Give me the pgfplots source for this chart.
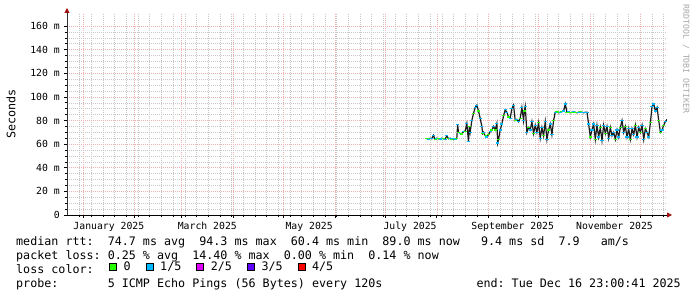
\documentclass[border=0pt]{standalone}
\usepackage{fontspec}
\setmainfont{DejaVu Sans Mono}
\usepackage{pgfplots}
\usepackage{pgfplotstable}
\pgfplotsset{compat=1.18}
\usetikzlibrary{arrows.meta}
\definecolor{lc0}{HTML}{26FF00}
\definecolor{lc1}{HTML}{00B8FF}
\definecolor{lc2}{HTML}{DD00FF}
\definecolor{lc3}{HTML}{5E00FF}
\definecolor{lc4}{HTML}{FF0000}
\definecolor{mgridc}{HTML}{F2B0B0}
\definecolor{gridc}{HTML}{C8C8C8}
\definecolor{arrowred}{HTML}{A01010}
\definecolor{smoke}{HTML}{1C1C1C}
\newcommand\tickfont{\fontsize{9.8bp}{11bp}\selectfont}
\newcommand\legfont{\fontsize{11.7bp}{14bp}\selectfont}
\frenchspacing
\pgfplotstableread{
day rtt cls
206 64.5 g
207 64 b
208 65 g
209 64.5 b
210 67.5 b
211 64 g
212 65 b
213 64.5 g
214 64 b
215 65 b
216 64.5 g
217 64 b
218 67 b
219 64.5 g
220 65 b
221 64 g
222 64.5 b
223 64 b
224 65 g
224.5 76.5 b
225 70 g
226 69 b
227 68.5 g
228 70.5 b
229 71 g
230 77.5 b
231 62 b
231.5 75 g
232 70 b
233 80 b
234 86 g
235 91 b
236 93 b
237 88 g
238 82 b
239 75 b
239.5 69 g
240 70 b
241 67 g
242 66 b
243 68 g
244 70.5 b
245 72 g
246 75 b
247 72 g
248 77.5 b
248.5 61 b
249 64 g
250 72 b
251 77 b
252 84 g
253 89 b
254 87 b
255 83 g
256 82 b
257 90 b
258 93 b
259 80 g
260 81 b
261 79 b
262 82 g
263 91 b
264 80 b
264.5 88 g
265 92 b
266 70 b
267 74 g
268 72 b
269 79 b
270 69 g
271 76 b
272 70 b
273 78 g
274 65 b
275 74 b
276 67 g
277 79 b
278 64 b
279 72 g
280 77 b
281 68 b
282 80 g
283 87 b
284 87.5 g
285 86.5 g
286 87 b
287 87.5 g
288 88 b
289 94 b
290 87 g
291 87.5 b
292 86.5 g
293 87 g
294 87.5 b
295 87 g
296 86.5 g
297 87 b
298 87.5 g
299 87 b
300 86.5 b
301 87 b
302 87 b
303 77 b
304 66 g
305 72 b
306 77 b
307 64 g
308 76 b
309 66 b
310 74 g
311 63 b
312 76 b
313 69 g
314 75 b
315 65 b
316 74 g
317 67 b
318 70 b
319 64 g
320 72 b
321 66 b
322 74 g
323 80 b
324 70 b
325 75 g
326 66 b
327 73 b
328 64 g
329 73 b
330 68 b
331 76 g
332 66 b
333 74 b
334 70 g
335 76 b
336 64 b
337 73 g
338 70 b
339 66 b
340 78 g
341 92 b
342 94 b
343 88 b
344 91 b
345 80 g
346 70 g
347 72 b
348 76 g
349 79 b
350 81 b
}\rttdata
\begin{document}
\begin{tikzpicture}
\path[use as bounding box] (0,0) rectangle (697bp,297bp);
\begin{axis}[
  at={(67bp,82bp)}, anchor=south west,
  width=600bp, height=202bp, scale only axis,
  xmin=-9.6, xmax=349.96, ymin=0, ymax=171,
  axis lines*=left,
  x axis line style={black, line width=0.8bp, -{Triangle[length=5bp,width=5bp,color=arrowred]}, shorten >=-5bp},
  y axis line style={black!80, line width=0.8bp, -{Triangle[length=5bp,width=5bp,color=arrowred]}, shorten >=-5bp},
  xtick={0,31,59,90,120,151,181,212,243,273,304,334},
  xticklabels={},
  minor xtick={-2,5,...,348},
  extra x ticks={15.5,74.5,135.5,196,257.5,318.5},
  extra x tick labels={January 2025,March 2025,May 2025,July 2025,September 2025,November 2025},
  extra x tick style={grid=none, major tick length=0pt},
  ytick={0,20,...,160},
  yticklabels={0,20 m,40 m,60 m,80 m,100 m,120 m,140 m,160 m},
  minor y tick num=3,
  grid=both,
  major grid style={mgridc, dash pattern=on 1bp off 1bp, line width=0.55bp},
  minor grid style={gridc, dash pattern=on 1bp off 1bp, line width=0.55bp},
  tick style={black, line width=0.6bp},
  major tick length=3bp, minor tick length=2bp, tick align=outside,
  yticklabel style={font=\tickfont, anchor=east, inner sep=0pt, xshift=-4bp},
  xticklabel style={font=\tickfont, anchor=base, inner sep=0pt, yshift=-14bp},
  ylabel={Seconds},
  every axis y label/.style={at={(axis description cs:-0.0933,0.5)}, rotate=90, anchor=center, font=\legfont},
  legend columns=5,
  legend style={at={(axis description cs:0.07,-0.255)}, anchor=west, draw=none, fill=none, inner sep=0pt, font=\legfont, nodes={inner sep=0pt}, row sep=0pt,
    /tikz/every odd column/.append style={column sep=7bp},
    /tikz/every even column/.append style={column sep=15bp}},
  legend image code/.code={\draw[#1, draw=black, line width=0.5bp] (0bp,-3.5bp) rectangle (7bp,3.5bp);},
]
\addplot[forget plot, smoke, line width=1.2bp, sharp plot] table[x=day, y=rtt] {\rttdata};
\addplot[forget plot, scatter, only marks, scatter src=explicit symbolic, mark size=1.6bp,
  scatter/classes={g={mark=-, draw=lc0, line width=1.2bp}, b={mark=-, draw=lc1, line width=1.2bp}}]
  table[x=day, y=rtt, meta=cls] {\rttdata};
\addlegendimage{fill=lc0}
\addlegendimage{fill=lc1}
\addlegendimage{fill=lc2}
\addlegendimage{fill=lc3}
\addlegendimage{fill=lc4}
\legend{0,1/5,2/5,3/5,4/5}
\end{axis}
\node[anchor=base west, inner sep=0pt, font=\legfont] at (16bp,51bp) {median rtt:~~74.7 ms avg~~94.3 ms max~~60.4 ms min~~89.0 ms now~~~9.4 ms sd~~7.9~~~am/s};
\node[anchor=base west, inner sep=0pt, font=\legfont] at (16bp,37.3bp) {packet loss:~0.25 \% avg~~14.40 \% max~~0.00 \% min~~0.14 \% now};
\node[anchor=base west, inner sep=0pt, font=\legfont] at (16bp,23.6bp) {loss color:};
\node[anchor=base west, inner sep=0pt, font=\legfont] at (16bp,9.9bp) {probe:~~~~~~~5 ICMP Echo Pings (56 Bytes) every 120s};
\node[anchor=base east, inner sep=0pt, font=\legfont] at (681bp,9.9bp) {end: Tue Dec 16 23:00:41 2025};
\node[rotate=-90, anchor=center, inner sep=0pt, text=black!35, font=\fontsize{8.2bp}{9bp}\selectfont] at (686bp,238bp) {RRDTOOL / TOBI OETIKER};
\end{tikzpicture}
\end{document}
